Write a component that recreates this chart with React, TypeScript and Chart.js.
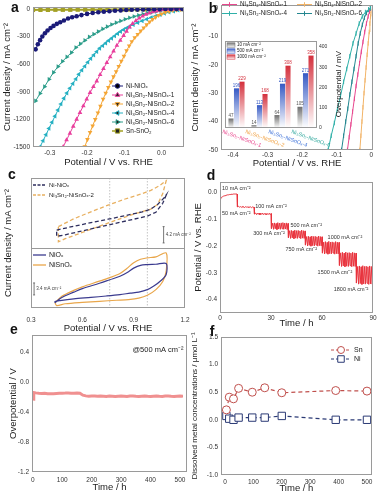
import React, { useEffect, useRef } from 'react';
import { Chart, registerables } from 'chart.js';

Chart.register(...registerables);

const FONT = "'Liberation Sans', Arial, Helvetica, sans-serif";
const fnt = (s: number, w = 'normal') => `${w} ${s}px ${FONT}`;

/* ---------------- (a) polarisation curves ---------------- */
const A_NAMES = ['Ni-NiOₓ', 'Ni₃Sn₂-NiSnOₓ-1', 'Ni₃Sn₂-NiSnOₓ-2', 'Ni₃Sn₂-NiSnOₓ-4', 'Ni₃Sn₂-NiSnOₓ-6', 'Sn-SnO₂'];
const A_X_TICKS = [-0.3, -0.2, -0.1, 0.0];
const A_X_LABELS = ['-0.3', '-0.2', '-0.1', '0.0'];
const A_Y_TICKS = [0, -300, -600, -900, -1200, -1500];

const A_NI_V = [-0.338, -0.332, -0.326, -0.32, -0.313, -0.306, -0.298, -0.29, -0.281, -0.272, -0.262, -0.251, -0.24, -0.228, -0.215, -0.2, -0.185, -0.17, -0.155, -0.14, -0.125, -0.11, -0.095, -0.08, -0.065, -0.05, -0.035, -0.02, -0.005, 0.01, 0.025, 0.04, 0.055];
const A_NI_J = [-440, -385, -340, -300, -265, -235, -208, -185, -163, -145, -126, -105, -92, -80, -68, -55, -45, -37, -31, -26, -21, -17, -13, -10, -8, -6, -5, -4, -3, -2, -1, -1, 0];

const A_S1_V = [-0.264, -0.255, -0.246, -0.237, -0.228, -0.219, -0.21, -0.201, -0.192, -0.183, -0.174, -0.165, -0.156, -0.147, -0.138, -0.129, -0.12, -0.111, -0.102, -0.094, -0.086, -0.078, -0.069, -0.06, -0.051, -0.042, -0.033, -0.024, -0.015, -0.006, 0.003, 0.012, 0.021, 0.03, 0.04, 0.05];
const A_S1_J = [-1497, -1424, -1351, -1275, -1199, -1126, -1054, -981, -909, -846, -784, -714, -649, -585, -522, -459, -398, -342, -290, -244, -200, -162, -128, -101, -79, -61, -46, -34, -24, -16, -10, -6, -3, -2, -1, 0];

const A_S2_V = [-0.206, -0.199, -0.192, -0.185, -0.178, -0.171, -0.164, -0.157, -0.15, -0.143, -0.136, -0.129, -0.122, -0.115, -0.108, -0.101, -0.094, -0.087, -0.08, -0.072, -0.064, -0.056, -0.048, -0.04, -0.032, -0.024, -0.016, -0.008, 0.0, 0.01, 0.02, 0.03, 0.04, 0.05];
const A_S2_J = [-1497, -1418, -1341, -1270, -1200, -1130, -1055, -980, -915, -853, -794, -737, -681, -624, -568, -514, -454, -402, -355, -313, -276, -240, -206, -172, -140, -114, -91, -70, -54, -38, -27, -17, -10, -5];

const A_S4_V = [-0.326, -0.318, -0.31, -0.302, -0.294, -0.286, -0.278, -0.27, -0.262, -0.254, -0.246, -0.238, -0.23, -0.222, -0.214, -0.206, -0.198, -0.19, -0.182, -0.174, -0.166, -0.158, -0.15, -0.142, -0.134, -0.126, -0.118, -0.11, -0.102, -0.094, -0.086, -0.076, -0.064, -0.052, -0.04, -0.028, -0.016, -0.004, 0.008, 0.02, 0.032, 0.044, 0.056];
const A_S4_J = [-1497, -1432, -1366, -1298, -1231, -1165, -1099, -1033, -972, -915, -862, -812, -762, -711, -666, -623, -580, -540, -502, -465, -429, -401, -373, -345, -320, -295, -270, -247, -226, -208, -191, -172, -150, -131, -112, -94, -78, -63, -50, -37, -25, -14, -6];

const A_S6_V = [-0.338, -0.326, -0.314, -0.302, -0.29, -0.278, -0.266, -0.254, -0.242, -0.23, -0.218, -0.206, -0.194, -0.182, -0.17, -0.158, -0.146, -0.134, -0.122, -0.11, -0.098, -0.086, -0.074, -0.062, -0.05, -0.038, -0.026, -0.014, -0.002, 0.01, 0.022, 0.034, 0.046, 0.058];
const A_S6_J = [-1000, -918, -845, -765, -690, -627, -570, -522, -475, -420, -380, -343, -305, -275, -247, -218, -194, -170, -150, -131, -113, -97, -83, -70, -58, -47, -37, -28, -21, -15, -10, -6, -3, -1];

const A_SN_V = [-0.345, -0.325, -0.305, -0.285, -0.265, -0.245, -0.225, -0.205, -0.185, -0.165, -0.145, -0.125, -0.105, -0.085, -0.065, -0.045, -0.025, -0.005, 0.015, 0.035, 0.055];
const A_SN_J = [-12, -11, -11, -10, -10, -10, -9, -9, -9, -8, -8, -8, -7, -7, -7, -6, -6, -5, -5, -4, -4];

/* ---------------- (b) low-current region + inset ---------------- */
const B_X_TICKS = [-0.4, -0.3, -0.2, -0.1, 0];
const B_X_LABELS = ['-0.4', '-0.3', '-0.2', '-0.1', '0'];
const B_Y_TICKS = [0, -10, -20, -30, -40, -50];
const B_NAMES = ['Ni₃Sn₂-NiSnOₓ-1', 'Ni₃Sn₂-NiSnOₓ-2', 'Ni₃Sn₂-NiSnOₓ-4', 'Ni₃Sn₂-NiSnOₓ-6'];

const B_S1_V = [-0.069, -0.064, -0.059, -0.054, -0.049, -0.044, -0.039, -0.034, -0.029, -0.024, -0.019, -0.014, -0.009, -0.005, -0.002];
const B_S1_J = [-50, -45.5, -41, -36.5, -32, -27.5, -23.5, -19.5, -15.5, -12, -8.5, -5.5, -3, -1.3, -0.3];
const B_S2_V = [-0.033, -0.03, -0.027, -0.024, -0.021, -0.018, -0.015, -0.012, -0.009, -0.006, -0.004, -0.002, -0.001];
const B_S2_J = [-50, -45, -40, -35, -30, -25.5, -21, -16.5, -12.5, -8.5, -5.5, -3, -1.2];
const B_S4_V = [-0.125, -0.116, -0.107, -0.098, -0.089, -0.08, -0.071, -0.062, -0.053, -0.044, -0.035, -0.026, -0.017, -0.008, -0.002];
const B_S4_J = [-50, -45, -40.5, -35.5, -31, -26, -21.5, -17, -12.5, -9, -5.5, -3, -1.5, -0.6, -0.1];
const B_S6_V = [-0.086, -0.08, -0.074, -0.068, -0.062, -0.056, -0.05, -0.044, -0.038, -0.032, -0.026, -0.02, -0.014, -0.008, -0.003];
const B_S6_J = [-50, -45, -40, -35.5, -30.5, -26, -21.5, -17, -12.5, -9, -6, -3.5, -1.8, -0.7, -0.1];

const INSET_CATS = ['Ni₃Sn₂-NiSnOₓ-1', 'Ni₃Sn₂-NiSnOₓ-2', 'Ni₃Sn₂-NiSnOₓ-4', 'Ni₃Sn₂-NiSnOₓ-6'];
const INSET_SERIES = ['10 mA cm⁻²', '500 mA cm⁻²', '1000 mA cm⁻²'];
const INSET_10 = [47, 14, 64, 105];
const INSET_500 = [196, 113, 219, 271];
const INSET_1000 = [229, 168, 308, 358];
const INSET_Y_TICKS = [0, 100, 200, 300, 400];

/* ---------------- (c) CV ---------------- */
const C_X_TICKS = [0.3, 0.6, 0.9, 1.2];
const C_X_LABELS = ['0.3', '0.6', '0.9', '1.2'];
const C_REF = [0.76, 0.98];
const C_TOP_NAMES = ['Ni-NiOₓ', 'Ni₃Sn₂-NiSnOₓ-2'];
const C_BOT_NAMES = ['NiOₓ', 'NiSnOₓ'];
const C_TOP_NI_V = [0.45, 0.55, 0.65, 0.75, 0.85, 0.95, 1.0, 1.04, 1.08, 1.09, 1.07, 1.03, 0.98, 0.9, 0.8, 0.7, 0.6, 0.5, 0.45, 0.45];
const C_TOP_NI_J = [4.6, 5.6, 6.5, 7.4, 8.3, 9.3, 10.0, 11.2, 13.0, 13.6, 11.5, 9.2, 8.2, 7.4, 6.4, 5.4, 4.4, 3.4, 3.0, 4.6];
const C_TOP_S2_V = [0.46, 0.55, 0.65, 0.75, 0.85, 0.95, 1.0, 1.05, 1.08, 1.09, 1.07, 1.04, 1.0, 0.9, 0.8, 0.7, 0.6, 0.5, 0.46, 0.46];
const C_TOP_S2_J = [5.5, 7.5, 9.3, 11.0, 12.6, 14.0, 14.8, 16.0, 17.0, 17.3, 14.0, 11.2, 10.0, 8.7, 7.2, 5.6, 4.0, 2.4, 1.6, 5.5];
const C_BOT_NI_V = [0.44, 0.48, 0.55, 0.6, 0.7, 0.76, 0.82, 0.87, 0.9, 0.94, 0.98, 1.03, 1.09, 1.09, 1.06, 1.02, 0.98, 0.93, 0.88, 0.82, 0.74, 0.65, 0.55, 0.47, 0.44, 0.44];
const C_BOT_NI_J = [1.5, 3.0, 4.5, 5.5, 7.0, 8.0, 9.0, 10.3, 11.3, 12.1, 12.3, 12.4, 12.6, 9.5, 7.8, 6.3, 5.2, 4.5, 4.2, 3.8, 3.4, 3.0, 2.6, 2.1, 1.8, 1.5];
const C_BOT_S_V = [0.44, 0.48, 0.55, 0.6, 0.7, 0.76, 0.82, 0.86, 0.9, 0.94, 0.98, 1.03, 1.09, 1.09, 1.07, 1.03, 0.98, 0.93, 0.87, 0.8, 0.7, 0.6, 0.5, 0.45, 0.44];
const C_BOT_S_J = [1.5, 3.3, 5.0, 6.0, 7.6, 8.6, 9.8, 11.2, 12.8, 13.8, 14.2, 14.5, 15.6, 10.5, 7.5, 5.2, 3.6, 2.8, 2.4, 2.2, 1.9, 1.6, 1.2, 0.7, 1.5];

/* ---------------- (d) multi-step chronopotentiometry ---------------- */
const D_X_TICKS = [0, 30, 60, 90];
const D_Y_TICKS = [0, -0.1, -0.2, -0.3, -0.4];
const D_Y_LABELS = ['0.0', '-0.1', '-0.2', '-0.3', '-0.4'];
const D_SEG_START = [0, 10, 20, 30, 40, 50, 60, 70, 80];
const D_STEP = 0.5;
const D_10 = [-0.024, -0.02, -0.017, -0.015, -0.013, -0.012, -0.011, -0.01, -0.009, -0.008, -0.008, -0.007, -0.007, -0.006, -0.006, -0.006, -0.005, -0.005, -0.005, -0.005, -0.005];
const D_50 = [-0.049, -0.053, -0.051, -0.054, -0.052, -0.055, -0.052, -0.054, -0.053, -0.056, -0.052, -0.054, -0.053, -0.055, -0.052, -0.055, -0.053, -0.056, -0.053, -0.055, -0.054];
const D_100 = [-0.074, -0.08, -0.076, -0.082, -0.077, -0.081, -0.076, -0.083, -0.077, -0.081, -0.076, -0.082, -0.078, -0.081, -0.077, -0.083, -0.078, -0.081, -0.077, -0.082, -0.078];
const D_300 = [-0.112, -0.134, -0.114, -0.137, -0.113, -0.135, -0.115, -0.138, -0.112, -0.136, -0.114, -0.137, -0.113, -0.135, -0.112, -0.137, -0.114, -0.136, -0.113, -0.138, -0.115];
const D_500 = [-0.14, -0.168, -0.142, -0.171, -0.141, -0.169, -0.143, -0.172, -0.14, -0.17, -0.142, -0.171, -0.141, -0.168, -0.143, -0.172, -0.14, -0.17, -0.142, -0.171, -0.143];
const D_750 = [-0.162, -0.196, -0.164, -0.199, -0.163, -0.197, -0.165, -0.2, -0.162, -0.198, -0.164, -0.199, -0.163, -0.196, -0.165, -0.2, -0.162, -0.198, -0.164, -0.199, -0.165];
const D_1000 = [-0.182, -0.226, -0.185, -0.229, -0.183, -0.227, -0.186, -0.23, -0.182, -0.228, -0.185, -0.229, -0.184, -0.226, -0.186, -0.23, -0.183, -0.228, -0.185, -0.229, -0.186];
const D_1500 = [-0.222, -0.272, -0.225, -0.276, -0.223, -0.274, -0.226, -0.277, -0.222, -0.275, -0.225, -0.276, -0.224, -0.273, -0.226, -0.277, -0.223, -0.275, -0.225, -0.276, -0.226];
const D_1800 = [-0.272, -0.338, -0.276, -0.342, -0.274, -0.34, -0.277, -0.343, -0.273, -0.341, -0.276, -0.342, -0.275, -0.339, -0.277, -0.343, -0.274, -0.341, -0.276, -0.342, -0.277];
const D_LABELS = ['10 mA cm⁻²', '50 mA cm⁻²', '100 mA cm⁻²', '300 mA cm⁻²', '500 mA cm⁻²', '750 mA cm⁻²', '1000 mA cm⁻²', '1500 mA cm⁻²', '1800 mA cm⁻²'];

/* ---------------- (e) stability ---------------- */
const E_X_TICKS = [0, 100, 200, 300, 400, 500];
const E_Y_TICKS = [0.4, 0, -0.4, -0.8, -1.2];
const E_Y_LABELS = ['0.4', '0.0', '-0.4', '-0.8', '-1.2'];
const E_TIME = [1, 3, 10, 20, 30, 40, 50, 60, 70, 80, 90, 100, 110, 120, 130, 140, 150, 160, 170, 180, 190, 200, 210, 220, 230, 240, 250, 260, 270, 280, 290, 300, 310, 320, 330, 340, 350, 360, 370, 380, 390, 400, 410, 420, 430, 440, 450, 460, 470, 480, 490, 500, 510];
const E_ETA = [-0.23, -0.14, -0.145, -0.15, -0.152, -0.149, -0.155, -0.158, -0.156, -0.153, -0.151, -0.149, -0.148, -0.146, -0.149, -0.151, -0.147, -0.15, -0.176, -0.185, -0.19, -0.186, -0.188, -0.191, -0.186, -0.189, -0.192, -0.188, -0.19, -0.194, -0.19, -0.187, -0.19, -0.193, -0.188, -0.186, -0.19, -0.192, -0.189, -0.186, -0.19, -0.193, -0.189, -0.187, -0.19, -0.192, -0.188, -0.186, -0.19, -0.193, -0.189, -0.187, -0.19];

/* ---------------- (f) dissolved metals ---------------- */
const F_X_TICKS = [0, 100, 200, 300, 400, 500];
const F_Y_TICKS = [1.5, 1.0, 0.5, 0, -0.5, -1.0];
const F_Y_LABELS = ['1.5', '1.0', '0.5', '0.0', '-0.5', '-1.0'];
const F_NAMES = ['Sn', 'Ni'];
const F_TIME = [5, 15, 30, 48, 96, 140, 200, 390, 500];
const F_SN = [0.18, 0.41, 0.38, 0.57, 0.5, 0.58, 0.49, 0.53, 0.52];
const F_NI = [0.07, 0.02, 0.0, 0.04, 0.04, 0.04, 0.07, 0.0, 0.0];

/* ---------------- colours ---------------- */
const CA = { ni: '#1b1b78', s1: '#e83e9c', s2: '#f4a534', s4: '#25b0c2', s6: '#2c9d8a', sn: '#a3a024' };
const CB = { s1: '#e8488f', s2: '#f2b468', s4: '#2fb0a8', s6: '#23868f' };
const CC = { niTop: '#2e2e5e', s2Top: '#e8b060', ni: '#3b3b8f', s: '#e9a64a' };
const IN_COLORS = ['#6f6f6f', '#3559c4', '#d4303c'];
const IN_CAT_COLORS = ['#e8408a', '#f0a040', '#3a6fd8', '#2aa59a'];
const D_COLOR = '#e8333d';
const E_COLOR = '#b3261f';
const E_HALO = '#f09090';
const F_COLORS = ['#c0504d', '#2b3a75'];

type Pt = { x: number; y: number };
const xy = (xs: number[], ys: number[]): Pt[] => xs.map((x, i) => ({ x, y: ys[i] }));

function drawMarker(ctx: CanvasRenderingContext2D, style: string, x: number, y: number, r: number, rot: number, fill: string | null, stroke: string) {
  ctx.save();
  ctx.translate(x, y);
  ctx.rotate((rot * Math.PI) / 180);
  ctx.beginPath();
  if (style === 'circle') ctx.arc(0, 0, r, 0, Math.PI * 2);
  else if (style === 'rect') { const s = r * Math.SQRT1_2; ctx.rect(-s, -s, 2 * s, 2 * s); }
  else if (style === 'triangle') { ctx.moveTo(0, -r); ctx.lineTo(r * 0.866, r * 0.5); ctx.lineTo(-r * 0.866, r * 0.5); ctx.closePath(); }
  else if (style === 'line') { ctx.moveTo(-r, 0); ctx.lineTo(r, 0); }
  if (fill && style !== 'line') { ctx.fillStyle = fill; ctx.fill(); }
  ctx.strokeStyle = stroke;
  ctx.lineWidth = 1;
  ctx.stroke();
  ctx.restore();
}

const extras = {
  id: 'extras',
  beforeDatasetsDraw(chart: any, _a: any, o: any) {
    if (!o || !o.under) return;
    const ctx: CanvasRenderingContext2D = chart.ctx;
    const ca = chart.chartArea;
    ctx.save();
    o.under.forEach((l: any) => {
      const x = chart.scales.x.getPixelForValue(l.x);
      ctx.beginPath();
      ctx.strokeStyle = l.color;
      ctx.lineWidth = l.width ?? 0.8;
      ctx.setLineDash(l.dash || []);
      ctx.moveTo(x, ca.top);
      ctx.lineTo(x, ca.bottom);
      ctx.stroke();
    });
    ctx.restore();
  },
  afterDraw(chart: any, _a: any, o: any) {
    if (!o) return;
    const ctx: CanvasRenderingContext2D = chart.ctx;
    const ca = chart.chartArea;
    const P = (v: number, sid: string | undefined, ax: string, data?: boolean) => (data ? chart.scales[sid || ax].getPixelForValue(v) : v);
    ctx.save();
    if (o.frame) {
      ctx.strokeStyle = '#9a9a9a';
      ctx.lineWidth = 1;
      ctx.setLineDash([]);
      ctx.strokeRect(Math.round(ca.left) + 0.5, Math.round(ca.top) + 0.5, Math.round(ca.right - ca.left) - 1, Math.round(ca.bottom - ca.top) - 1);
    }
    if (o.divider) {
      const yb = Math.max(...o.divider.map((id: string) => chart.scales[id].top));
      ctx.strokeStyle = '#9a9a9a';
      ctx.lineWidth = 1;
      ctx.beginPath();
      ctx.moveTo(ca.left, Math.round(yb) + 0.5);
      ctx.lineTo(ca.right, Math.round(yb) + 0.5);
      ctx.stroke();
    }
    (o.lines || []).forEach((l: any) => {
      const x1 = P(l.x1, l.xs, 'x', l.data), y1 = P(l.y1, l.ys, 'y', l.data);
      const x2 = P(l.x2, l.xs, 'x', l.data), y2 = P(l.y2, l.ys, 'y', l.data);
      ctx.beginPath();
      ctx.strokeStyle = l.color || '#333';
      ctx.lineWidth = l.width ?? 0.8;
      ctx.setLineDash(l.dash || []);
      ctx.moveTo(x1, y1);
      ctx.lineTo(x2, y2);
      if (l.cap) {
        ctx.moveTo(x1 - l.cap, y1); ctx.lineTo(x1 + l.cap, y1);
        ctx.moveTo(x2 - l.cap, y2); ctx.lineTo(x2 + l.cap, y2);
      }
      ctx.stroke();
    });
    ctx.setLineDash([]);
    (o.legend || []).forEach((g: any) => {
      if (g.box) {
        const gr = ctx.createLinearGradient(0, g.y - 2.5, 0, g.y + 2.5);
        gr.addColorStop(0, g.color);
        gr.addColorStop(1, '#ffffff');
        ctx.fillStyle = gr;
        ctx.fillRect(g.x, g.y - 2.2, g.len, 4.4);
        ctx.strokeStyle = g.color;
        ctx.lineWidth = 0.5;
        ctx.strokeRect(g.x, g.y - 2.2, g.len, 4.4);
      } else {
        ctx.strokeStyle = g.color;
        ctx.lineWidth = g.width ?? 1;
        ctx.setLineDash(g.dash || []);
        ctx.beginPath();
        ctx.moveTo(g.x, g.y);
        ctx.lineTo(g.x + g.len, g.y);
        ctx.stroke();
        ctx.setLineDash([]);
        if (g.ps) drawMarker(ctx, g.ps, g.x + g.len / 2, g.y, g.r ?? 2.5, g.rot ?? 0, g.fill === undefined ? g.color : g.fill, g.color);
      }
      ctx.font = fnt(g.size ?? 7);
      ctx.fillStyle = g.textColor || '#222';
      ctx.textAlign = 'left';
      ctx.textBaseline = 'middle';
      ctx.fillText(g.t, g.x + g.len + (g.gap ?? 3), g.y);
    });
    if (o.barLabels) {
      chart.data.datasets.forEach((ds: any, di: number) => {
        const meta = chart.getDatasetMeta(di);
        meta.data.forEach((el: any, i: number) => {
          ctx.fillStyle = o.barLabels.colors[di];
          ctx.font = fnt(o.barLabels.size);
          ctx.textAlign = 'center';
          ctx.textBaseline = 'bottom';
          ctx.fillText(String(ds.data[i]), el.x, el.y - 0.5);
        });
      });
    }
    if (o.catLabels) {
      const meta = chart.getDatasetMeta(1);
      o.catLabels.texts.forEach((t: string, i: number) => {
        const el = meta.data[i];
        ctx.save();
        ctx.translate(el.x + o.catLabels.dx, ca.bottom + o.catLabels.dy);
        ctx.rotate((o.catLabels.rot * Math.PI) / 180);
        ctx.font = fnt(o.catLabels.size);
        ctx.fillStyle = o.catLabels.colors[i];
        ctx.textAlign = 'left';
        ctx.textBaseline = 'top';
        ctx.fillText(t, 0, 0);
        ctx.restore();
      });
    }
    (o.texts || []).forEach((t: any) => {
      const x = P(t.x, t.xs, 'x', t.data), y = P(t.y, t.ys, 'y', t.data);
      ctx.save();
      ctx.translate(x, y);
      if (t.rot) ctx.rotate((t.rot * Math.PI) / 180);
      ctx.font = fnt(t.size ?? 7, t.bold ? 'bold' : 'normal');
      ctx.fillStyle = t.color ?? '#222';
      ctx.textAlign = t.align ?? 'left';
      ctx.textBaseline = t.base ?? 'middle';
      ctx.fillText(t.t, 0, 0);
      ctx.restore();
    });
    ctx.restore();
  },
};

function axis(o: any) {
  const horiz = o.pos === 'bottom';
  return {
    type: 'linear',
    position: o.pos,
    min: o.min,
    max: o.max,
    stack: o.stack,
    stackWeight: o.stackWeight,
    grid: { display: false, drawTicks: false },
    border: { display: false },
    ticks: {
      display: o.showTicks !== false,
      padding: o.tickPad ?? 2,
      font: { family: FONT, size: o.tickSize ?? 6.5 },
      color: '#333',
      autoSkip: false,
      maxRotation: 0,
      minRotation: 0,
      callback: (v: number, i: number) => (o.labels ? o.labels[i] : String(v)),
    },
    title: o.title
      ? { display: true, text: o.title, color: '#222', font: { family: FONT, size: o.tSize ?? 9.5 }, padding: horiz ? { top: 0, bottom: o.tPad ?? 2 } : { top: o.tPad ?? 2, bottom: 0 } }
      : { display: false },
    afterBuildTicks: (s: any) => { s.ticks = (o.ticks || []).map((v: number) => ({ value: v })); },
    afterFit: (s: any) => {
      if (horiz) { s.height = o.size; s.paddingLeft = 0; s.paddingRight = 0; }
      else { s.width = o.size; s.paddingTop = 0; s.paddingBottom = 0; }
    },
  };
}

function base(pad: any, scales: any, ex: any) {
  return {
    responsive: false,
    animation: false,
    devicePixelRatio: 1,
    events: [],
    layout: { padding: pad },
    scales,
    plugins: { legend: { display: false }, tooltip: { enabled: false }, title: { display: false }, extras: ex },
  };
}

const lineDs = (label: string, data: Pt[], color: string, ps: string, rot: number, r: number, extra: any = {}) => ({
  label, data, borderColor: color, backgroundColor: color, borderWidth: 1, pointStyle: ps, pointRotation: rot,
  pointRadius: r, pointBorderWidth: 0, pointBackgroundColor: color, pointBorderColor: color, tension: 0, ...extra,
});

/* ---------- chart makers ---------- */
const makeA = () => ({
  type: 'line',
  data: {
    datasets: [
      lineDs(A_NAMES[0], xy(A_NI_V, A_NI_J), CA.ni, 'circle', 0, 2.3),
      lineDs(A_NAMES[1], xy(A_S1_V, A_S1_J), CA.s1, 'triangle', 0, 2.7),
      lineDs(A_NAMES[2], xy(A_S2_V, A_S2_J), CA.s2, 'triangle', 180, 2.7),
      lineDs(A_NAMES[3], xy(A_S4_V, A_S4_J), CA.s4, 'triangle', -90, 2.7),
      lineDs(A_NAMES[4], xy(A_S6_V, A_S6_J), CA.s6, 'triangle', 90, 2.7),
      lineDs(A_NAMES[5], xy(A_SN_V, A_SN_J), CA.sn, 'rect', 0, 3, { borderWidth: 2 }),
    ],
  },
  options: base({ left: 0, top: 7, right: 3, bottom: 0 }, {
    x: axis({ pos: 'bottom', min: -0.345, max: 0.06, ticks: A_X_TICKS, labels: A_X_LABELS, size: 23, title: 'Potential / V vs. RHE', tPad: 2, tickPad: 2 }),
    y: axis({ pos: 'left', min: -1500, max: 20, ticks: A_Y_TICKS, size: 33, title: 'Current density / mA cm⁻²', tPad: 2, tickPad: 3 }),
  }, {
    frame: true,
    legend: [
      { x: 112, y: 86, len: 11, t: A_NAMES[0], color: CA.ni, ps: 'circle', r: 2.3, size: 6.5 },
      { x: 112, y: 95, len: 11, t: A_NAMES[1], color: CA.s1, ps: 'triangle', r: 2.7, size: 6.5 },
      { x: 112, y: 104, len: 11, t: A_NAMES[2], color: CA.s2, ps: 'triangle', rot: 180, r: 2.7, size: 6.5 },
      { x: 112, y: 113, len: 11, t: A_NAMES[3], color: CA.s4, ps: 'triangle', rot: -90, r: 2.7, size: 6.5 },
      { x: 112, y: 122, len: 11, t: A_NAMES[4], color: CA.s6, ps: 'triangle', rot: 90, r: 2.7, size: 6.5 },
      { x: 112, y: 131, len: 11, t: A_NAMES[5], color: CA.sn, ps: 'rect', r: 3, width: 1.5, size: 6.5 },
    ],
  }),
  plugins: [extras],
});

const bLine = (label: string, data: Pt[], color: string) => lineDs(label, data, color, 'line', 90, 2.3, { pointBorderWidth: 1 });

const makeB = () => ({
  type: 'line',
  data: {
    datasets: [
      bLine(B_NAMES[2], xy(B_S4_V, B_S4_J), CB.s4),
      bLine(B_NAMES[3], xy(B_S6_V, B_S6_J), CB.s6),
      bLine(B_NAMES[0], xy(B_S1_V, B_S1_J), CB.s1),
      bLine(B_NAMES[1], xy(B_S2_V, B_S2_J), CB.s2),
    ],
  },
  options: base({ left: 0, top: 2, right: 5, bottom: 0 }, {
    x: axis({ pos: 'bottom', min: -0.435, max: 0.005, ticks: B_X_TICKS, labels: B_X_LABELS, size: 20, title: 'Potential / V vs. RHE', tPad: 1.3, tickPad: 1 }),
    y: axis({ pos: 'left', min: -50, max: 1, ticks: B_Y_TICKS, size: 33, title: 'Current density / mA cm⁻²', tPad: 2, tickPad: 3 }),
  }, {
    frame: true,
    legend: [
      { x: 34, y: 4.5, len: 15, t: B_NAMES[0], color: CB.s1, ps: 'line', rot: 90, r: 2.3, size: 6.3 },
      { x: 109, y: 4.5, len: 15, t: B_NAMES[1], color: CB.s2, ps: 'line', rot: 90, r: 2.3, size: 6.3 },
      { x: 34, y: 13.5, len: 15, t: B_NAMES[2], color: CB.s4, ps: 'line', rot: 90, r: 2.3, size: 6.3 },
      { x: 109, y: 13.5, len: 15, t: B_NAMES[3], color: CB.s6, ps: 'line', rot: 90, r: 2.3, size: 6.3 },
    ],
  }),
  plugins: [extras],
});

const grad = (color: string) => (c: any) => {
  const chart = c.chart;
  if (!chart.chartArea || c.type !== 'data') return color;
  const ys = chart.scales.y;
  const top = ys.getPixelForValue(c.raw);
  const bot = ys.getPixelForValue(0);
  const g = chart.ctx.createLinearGradient(0, top, 0, bot);
  g.addColorStop(0, color);
  g.addColorStop(1, '#ffffff');
  return g;
};

const makeInset = () => ({
  type: 'bar',
  data: {
    labels: INSET_CATS,
    datasets: [
      { label: INSET_SERIES[0], data: INSET_10, backgroundColor: grad(IN_COLORS[0]), borderWidth: 0 },
      { label: INSET_SERIES[1], data: INSET_500, backgroundColor: grad(IN_COLORS[1]), borderWidth: 0 },
      { label: INSET_SERIES[2], data: INSET_1000, backgroundColor: grad(IN_COLORS[2]), borderWidth: 0 },
    ],
  },
  options: {
    ...base({ left: 10, top: 5, right: 0, bottom: 20 }, {
      x: { type: 'category', display: false, offset: true },
      y: axis({ pos: 'right', min: 0, max: 430, ticks: INSET_Y_TICKS, size: 31, tickPad: 2, tickSize: 5 }),
    }, {
      frame: true,
      legend: [
        { x: 12, y: 9, len: 8, t: INSET_SERIES[0], color: IN_COLORS[0], box: true, size: 4.5, gap: 2 },
        { x: 12, y: 15, len: 8, t: INSET_SERIES[1], color: IN_COLORS[1], box: true, size: 4.5, gap: 2 },
        { x: 12, y: 21, len: 8, t: INSET_SERIES[2], color: IN_COLORS[2], box: true, size: 4.5, gap: 2 },
      ],
      barLabels: { size: 4.5, colors: ['#555', IN_COLORS[1], IN_COLORS[2]] },
      catLabels: { texts: INSET_CATS, colors: IN_CAT_COLORS, dx: -13, dy: 1, rot: 20, size: 5.5 },
      texts: [{ t: 'Overpotential / mV', x: 124, y: 48, rot: -90, align: 'center', size: 8 }],
    }),
    datasets: { bar: { categoryPercentage: 0.72, barPercentage: 0.92 } },
  },
  plugins: [extras],
});

const makeC = () => ({
  type: 'line',
  data: {
    datasets: [
      { label: C_TOP_NAMES[0], data: xy(C_TOP_NI_V, C_TOP_NI_J), yAxisID: 'yTop', borderColor: CC.niTop, borderWidth: 1.3, borderDash: [4, 2.5], pointRadius: 0, tension: 0 },
      { label: C_TOP_NAMES[1], data: xy(C_TOP_S2_V, C_TOP_S2_J), yAxisID: 'yTop', borderColor: CC.s2Top, borderWidth: 1.3, borderDash: [4, 2.5], pointRadius: 0, tension: 0 },
      { label: C_BOT_NAMES[0], data: xy(C_BOT_NI_V, C_BOT_NI_J), yAxisID: 'yBot', borderColor: CC.ni, borderWidth: 1.2, pointRadius: 0, tension: 0.3 },
      { label: C_BOT_NAMES[1], data: xy(C_BOT_S_V, C_BOT_S_J), yAxisID: 'yBot', borderColor: CC.s, borderWidth: 1.2, pointRadius: 0, tension: 0.3 },
    ],
  },
  options: base({ left: 0, top: 13, right: 7, bottom: 0 }, {
    x: axis({ pos: 'bottom', min: 0.3, max: 1.2, ticks: C_X_TICKS, labels: C_X_LABELS, size: 27, title: 'Potential / V vs. RHE', tPad: 1.3, tickPad: 8 }),
    yBot: axis({ pos: 'left', min: 0, max: 17, ticks: [], size: 31, showTicks: false, stack: 'c', stackWeight: 60 }),
    yTop: axis({ pos: 'left', min: 0, max: 18, ticks: [], size: 31, showTicks: false, stack: 'c', stackWeight: 70 }),
  }, {
    frame: true,
    divider: ['yTop', 'yBot'],
    under: C_REF.map((x) => ({ x, color: '#b5b5b5', dash: [1.5, 1.5], width: 0.8 })),
    lines: [
      { data: true, xs: 'x', ys: 'yTop', x1: 1.075, y1: 1.3, x2: 1.075, y2: 5.5, color: '#555', width: 0.8, cap: 1 },
      { data: true, xs: 'x', ys: 'yBot', x1: 0.318, y1: 3.7, x2: 0.318, y2: 7.1, color: '#555', width: 0.8, cap: 1 },
    ],
    legend: [
      { x: 33, y: 20, len: 13, t: C_TOP_NAMES[0], color: CC.niTop, dash: [3, 1.5], width: 1.3, size: 6 },
      { x: 33, y: 30, len: 13, t: C_TOP_NAMES[1], color: CC.s2Top, dash: [3, 1.5], width: 1.3, size: 6 },
      { x: 33, y: 90, len: 13, t: C_BOT_NAMES[0], color: CC.ni, width: 1.3, size: 7 },
      { x: 33, y: 100, len: 13, t: C_BOT_NAMES[1], color: CC.s, width: 1.3, size: 7 },
    ],
    texts: [
      { t: 'Current density / mA cm⁻²', x: 8, y: 78, rot: -90, align: 'center', size: 9.5 },
      { t: '4.2 mA cm⁻²', data: true, xs: 'x', ys: 'yTop', x: 1.088, y: 3.4, size: 4.5, color: '#444' },
      { t: '3.4 mA cm⁻²', data: true, xs: 'x', ys: 'yBot', x: 0.33, y: 5.4, size: 4.5, color: '#444' },
    ],
  }),
  plugins: [extras],
});

const D_SEGS = [D_10, D_50, D_100, D_300, D_500, D_750, D_1000, D_1500, D_1800];
const D_POINTS: Pt[] = D_SEGS.flatMap((seg, k) => seg.map((v, i) => ({ x: D_SEG_START[k] + i * D_STEP, y: v })));
const D_ANCHOR = [[1.2, 0.015], [1.2, -0.076], [20.7, -0.053], [19.5, -0.152], [41.4, -0.122], [38.5, -0.213], [63.3, -0.167], [57.4, -0.3], [66.9, -0.361]];

const makeD = () => ({
  type: 'line',
  data: { datasets: [{ label: 'Potential', data: D_POINTS, borderColor: D_COLOR, borderWidth: 1, pointRadius: 0, tension: 0 }] },
  options: base({ left: 0, top: 17, right: 5, bottom: 0 }, {
    x: axis({ pos: 'bottom', min: 0, max: 90, ticks: D_X_TICKS, size: 17, title: 'Time / h', tPad: 1.3, tickPad: 1 }),
    y: axis({ pos: 'left', min: -0.45, max: 0.04, ticks: D_Y_TICKS, labels: D_Y_LABELS, size: 32, title: 'Potential / V vs. RHE', tPad: 4.3, tickPad: 3 }),
  }, {
    frame: true,
    texts: D_LABELS.map((t, i) => ({ t, data: true, x: D_ANCHOR[i][0], y: D_ANCHOR[i][1], size: 5.5, color: '#333' })),
  }),
  plugins: [extras],
});

const makeE = () => ({
  type: 'line',
  data: {
    datasets: [
      { label: 'halo', data: xy(E_TIME, E_ETA), borderColor: E_HALO, borderWidth: 3, pointRadius: 0, tension: 0 },
      { label: 'Overpotential', data: xy(E_TIME, E_ETA), borderColor: E_COLOR, borderWidth: 1.2, pointRadius: 0, tension: 0 },
    ],
  },
  options: base({ left: 0, top: 5, right: 1, bottom: 0 }, {
    x: axis({ pos: 'bottom', min: -3, max: 524, ticks: E_X_TICKS, size: 31, title: 'Time / h', tPad: 10, tickPad: 4 }),
    y: axis({ pos: 'left', min: -1.2, max: 0.627, ticks: E_Y_TICKS, labels: E_Y_LABELS, size: 32, title: 'Overpotential / V', tPad: 7.3, tickPad: 3 }),
  }, {
    frame: true,
    texts: [{ t: '@500 mA cm⁻²', x: 158, y: 20, align: 'center', size: 7.5, color: '#222' }],
  }),
  plugins: [extras],
});

const makeF = () => ({
  type: 'line',
  data: {
    datasets: [
      { label: F_NAMES[0], data: xy(F_TIME, F_SN), borderColor: F_COLORS[0], borderWidth: 1.2, borderDash: [4, 3], pointStyle: 'circle', pointRadius: 4, pointBackgroundColor: '#fff', pointBorderColor: F_COLORS[0], pointBorderWidth: 1, tension: 0 },
      { label: F_NAMES[1], data: xy(F_TIME, F_NI), borderColor: F_COLORS[1], borderWidth: 1.2, borderDash: [4, 3], pointStyle: 'rect', pointRadius: 5.2, pointBackgroundColor: '#fff', pointBorderColor: F_COLORS[1], pointBorderWidth: 1, tension: 0 },
    ],
  },
  options: base({ left: 0, top: 7, right: 5, bottom: 0 }, {
    x: axis({ pos: 'bottom', min: -14, max: 517, ticks: F_X_TICKS, size: 28, title: 'Time / h', tPad: 9.3, tickPad: 3 }),
    y: axis({ pos: 'left', min: -1, max: 1.5, ticks: F_Y_TICKS, labels: F_Y_LABELS, size: 33, title: 'Dissolved metal concentrations / μmol L⁻¹', tSize: 8, tPad: 2.2, tickPad: 3 }),
  }, {
    frame: true,
    legend: [
      { x: 143, y: 20, len: 20, t: F_NAMES[0], color: F_COLORS[0], ps: 'circle', r: 3.5, fill: '#fff', dash: [3, 2] },
      { x: 143, y: 29, len: 20, t: F_NAMES[1], color: F_COLORS[1], ps: 'rect', r: 4.6, fill: '#fff', dash: [3, 2] },
    ],
  }),
  plugins: [extras],
});

function ChartBox({ x, y, w, h, make }: { x: number; y: number; w: number; h: number; make: () => any }) {
  const ref = useRef<HTMLCanvasElement>(null);
  useEffect(() => {
    const c = new Chart(ref.current as HTMLCanvasElement, make());
    return () => c.destroy();
  }, []);
  return <canvas ref={ref} width={w} height={h} style={{ position: 'absolute', left: x, top: y, width: w, height: h }} />;
}

const LETTERS: [string, number, number][] = [['a', 15, 7], ['b', 213, 8], ['c', 12, 174], ['d', 211, 175], ['e', 14, 329], ['f', 212, 331]];

export default function App() {
  return (
    <div style={{ position: 'absolute', left: 0, top: 0, width: 378, height: 503, background: '#fff', overflow: 'hidden' }}>
      <ChartBox x={0} y={0} w={188} h={170} make={makeA} />
      <ChartBox x={188} y={0} w={190} h={170} make={makeB} />
      <ChartBox x={215} y={36} w={133} h={112} make={makeInset} />
      <ChartBox x={0} y={165} w={192} h={170} make={makeC} />
      <ChartBox x={188} y={165} w={190} h={165} make={makeD} />
      <ChartBox x={0} y={330} w={188} h={173} make={makeE} />
      <ChartBox x={188} y={330} w={190} h={173} make={makeF} />
      {LETTERS.map(([t, x, y]) => (
        <div key={t} style={{ position: 'absolute', left: x, top: y, transform: 'translate(-50%, -50%)', font: `bold 14px ${FONT}`, lineHeight: 1, color: '#111' }}>{t}</div>
      ))}
    </div>
  );
}
